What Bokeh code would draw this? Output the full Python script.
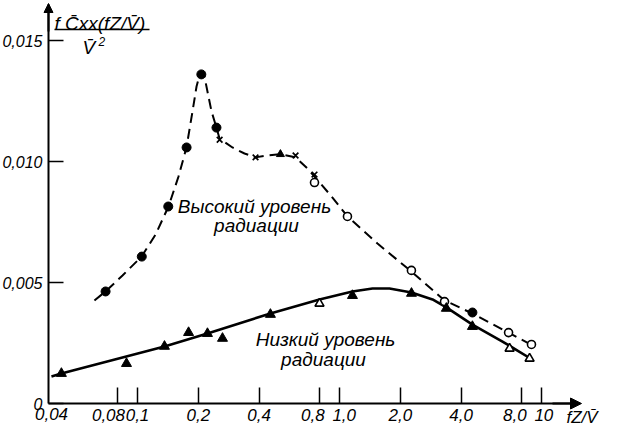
from bokeh.plotting import figure
from bokeh.models import Range1d, FixedTicker, Label, Arrow, NormalHead, CustomJSTickFormatter
from bokeh.embed import file_html
from bokeh.resources import INLINE

# ---------------- data ----------------
x_ticks = [0.04, 0.08, 0.1, 0.2, 0.4, 0.8, 1.0, 2.0, 4.0, 8.0, 10.0]
x_tick_labels = ["0,04", "0,08", "0,1", "0,2", "0,4", "0,8", "1,0", "2,0", "4,0", "8,0", "10"]
y_ticks = [0.0, 0.005, 0.010, 0.015]
y_tick_labels = ["0", "0,005", "0,010", "0,015"]

x_title = "fZ/V\u0304"
y_title_num = "f C\u0304xx(fZ/V\u0304)"
y_title_den = "V\u0304"
high_label = ["Высокий уровень", "радиации"]
low_label = ["Низкий уровень", "радиации"]

# high radiation level (dashed curve)
high_dot_x = [0.0695, 0.105, 0.142, 0.175, 0.207, 0.246, 4.55]
high_dot_y = [0.00463, 0.00607, 0.00814, 0.01058, 0.0136, 0.0114, 0.00376]
high_cross_x = [0.255, 0.384, 0.606, 0.752]
high_cross_y = [0.0109, 0.01017, 0.01025, 0.00946]
high_tri_x = [0.51]
high_tri_y = [0.0103]
high_open_x = [0.752, 1.095, 2.27, 3.31, 6.87, 8.92]
high_open_y = [0.00913, 0.00773, 0.0055, 0.00421, 0.00293, 0.00244]
high_curve_x = [0.0612, 0.0695, 0.0843, 0.1047, 0.1228, 0.1424, 0.1596, 0.1748, 0.1872,
                0.196, 0.2027, 0.2074, 0.2146, 0.222, 0.2325, 0.246, 0.2547, 0.2953,
                0.3386, 0.384, 0.44, 0.51, 0.606, 0.694, 0.752, 0.923, 1.095, 1.542,
                2.272, 3.31, 4.55, 6.87, 9.23]
high_curve_y = [0.00426, 0.00463, 0.00529, 0.00607, 0.00698, 0.00814, 0.00938, 0.01058, 0.01207,
                0.0131, 0.01355, 0.01368, 0.01351, 0.01289, 0.01207, 0.0114, 0.01095, 0.01058,
                0.01033, 0.01017, 0.01025, 0.0103, 0.01017, 0.00971, 0.00938, 0.00851, 0.00773, 0.00661,
                0.00545, 0.00426, 0.00372, 0.00293, 0.00236]

# low radiation level (solid curve)
low_tri_x = [0.042, 0.0882, 0.136, 0.179, 0.222, 0.2635, 0.455, 1.159, 2.272, 3.38, 4.55]
low_tri_y = [0.00124, 0.00165, 0.00236, 0.00293, 0.00289, 0.00269, 0.00368, 0.00446, 0.00455, 0.00393, 0.00318]
low_open_x = [0.796, 6.95, 8.73]
low_open_y = [0.00413, 0.00227, 0.00186]
low_curve_x = [0.0375, 0.042, 0.136, 0.222, 0.455, 0.796, 1.159, 1.457, 1.768, 2.272, 2.887,
               3.38, 4.55, 6.41, 8.82]
low_curve_y = [0.00112, 0.00124, 0.00236, 0.00289, 0.00372, 0.0043, 0.00463, 0.00475, 0.00475,
               0.00459, 0.0043, 0.00397, 0.00326, 0.00256, 0.00186]

# ---------------- layout helpers (reference pixel -> data) ----------------
def px2x(px):
    return 0.1 * 10 ** ((px - 145) / 202.0)

def py2y(py):
    return (412 - py) / 24200.0

FONT = "Liberation Sans"
W, H = 605, 425
OFF_X, OFF_Y = 8, 9                    # canvas pixel = reference pixel - offset
axis_l, axis_r, axis_t = 56, 585, 13   # reference pixels of the axis extent

p = figure(width=W, height=H, x_axis_type="log", title=None,
           x_range=Range1d(px2x(OFF_X), px2x(OFF_X + W)),
           y_range=Range1d(py2y(OFF_Y + H), py2y(OFF_Y)),
           output_backend="svg", toolbar_location=None,
           min_border_left=0, min_border_right=0, min_border_top=0, min_border_bottom=0)
p.outline_line_color = None
p.grid.visible = False
p.background_fill_color = "white"
p.border_fill_color = "white"

# x axis (drawn at y = 0 inside the frame)
pads = {"0,08": ("", "\u2007\u2007"), "0,8": ("", "\u2007\u00a0"),
        "1,0": ("\u2007", ""), "8,0": ("", "\u2007\u00a0"), "10": ("\u00a0", "")}
shown_ticks = x_ticks[1:]
shown_labels = [pads.get(l, ("", ""))[0] + l + pads.get(l, ("", ""))[1] for l in x_tick_labels[1:]]
p.xaxis.fixed_location = 0
p.xaxis.bounds = (px2x(axis_l), px2x(axis_r))
p.xaxis.ticker = FixedTicker(ticks=shown_ticks, minor_ticks=[])
p.xaxis.formatter = CustomJSTickFormatter(
    args=dict(tvals=shown_ticks, tlabels=shown_labels),
    code="""
    for (let i = 0; i < tvals.length; i++) {
        if (Math.abs(tvals[i] - tick) < 1e-9 * Math.max(1, Math.abs(tick))) return tlabels[i];
    }
    return '';
    """)
p.xaxis.major_tick_in = 16
p.xaxis.major_tick_out = 0
p.xaxis.minor_tick_line_color = None
p.xaxis.major_tick_line_width = 1.5
p.xaxis.axis_line_width = 2
p.xaxis.major_label_standoff = 2
p.xaxis.major_label_text_font = FONT
p.xaxis.major_label_text_font_style = "italic"
p.xaxis.major_label_text_font_size = "17px"
p.xaxis.major_label_text_color = "black"

# y axis (drawn at the left end of the x range)
p.yaxis.fixed_location = px2x(axis_l)
p.yaxis.bounds = (0, py2y(axis_t))
p.yaxis.ticker = FixedTicker(ticks=y_ticks, minor_ticks=[])
p.yaxis.major_label_overrides = {t: l for t, l in zip(y_ticks, y_tick_labels)}
p.yaxis.major_tick_in = 15
p.yaxis.major_tick_out = 0
p.yaxis.minor_tick_line_color = None
p.yaxis.major_tick_line_width = 1.5
p.yaxis.axis_line_width = 2
p.yaxis.major_label_standoff = 6
p.yaxis.major_label_text_font = FONT
p.yaxis.major_label_text_font_style = "italic"
p.yaxis.major_label_text_font_size = "16px"
p.yaxis.major_label_text_color = "black"

# axis arrows
p.add_layout(Arrow(end=NormalHead(size=11, fill_color="black", line_color="black"),
                   x_start=px2x(560), y_start=0, x_end=px2x(589), y_end=0, line_width=2))
p.add_layout(Arrow(end=NormalHead(size=9, fill_color="black", line_color="black"),
                   x_start=px2x(axis_l), y_start=py2y(40), x_end=px2x(axis_l), y_end=py2y(12),
                   line_width=2))

# curves
p.line(high_curve_x, high_curve_y, line_color="black", line_width=2, line_dash="10 6")
p.line(low_curve_x, low_curve_y, line_color="black", line_width=2.6)

# markers
p.scatter(high_dot_x, high_dot_y, marker="circle", size=9, fill_color="black", line_color="black")
p.scatter(high_cross_x, high_cross_y, marker="x", size=8, line_color="black", line_width=1.7)
p.scatter(high_tri_x, high_tri_y, marker="triangle", size=8, fill_color="black", line_color="black")
p.scatter(high_open_x, high_open_y, marker="circle", size=8, fill_color="white",
          line_color="black", line_width=1.6)
p.scatter(low_tri_x, low_tri_y, marker="triangle", size=10, fill_color="black", line_color="black")
p.scatter(low_open_x, low_open_y, marker="triangle", size=9, fill_color="white",
          line_color="black", line_width=1.6)

# texts
def add_label(text, px, py, size="19px", align="left", baseline="alphabetic"):
    p.add_layout(Label(x=px2x(px), y=py2y(py), text=text, text_font=FONT,
                       text_font_style="italic", text_font_size=size, text_color="black",
                       text_align=align, text_baseline=baseline))

add_label(high_label[0], 262, 215, align="center", baseline="middle")
add_label(high_label[1], 264, 234, align="center", baseline="middle")
add_label(low_label[0], 333, 348, align="center", baseline="middle")
add_label(low_label[1], 331, 368, align="center", baseline="middle")

# x-axis first tick label at the origin and the axis title
add_label(x_tick_labels[0], 59, 416, size="17px", align="center", baseline="top")
add_label(x_title, 574, 416, size="17px", baseline="top")

# y-axis title (fraction)
add_label(y_title_num, 62, 32, size="19px")
p.add_layout(Arrow(end=None, x_start=px2x(62), y_start=py2y(38), x_end=px2x(157), y_end=py2y(38),
                   line_width=1.5, line_color="black"))
add_label(y_title_den, 90, 56, size="19px")
add_label("2", 106, 50, size="12px")

open("out.html", "w").write(file_html(p, INLINE))
